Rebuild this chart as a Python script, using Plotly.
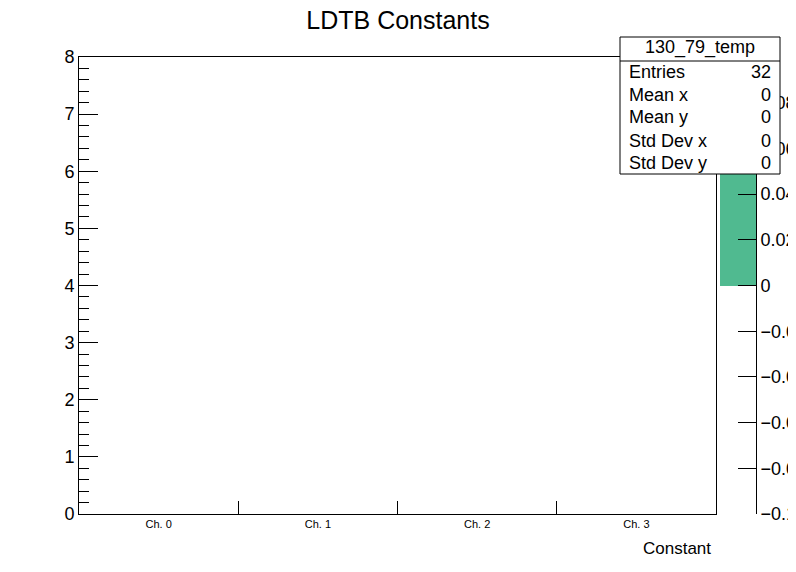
import plotly.graph_objects as go

# ---- data ----
channels = ["Ch. 0", "Ch. 1", "Ch. 2", "Ch. 3"]
y_bins = [0.5, 1.5, 2.5, 3.5, 4.5, 5.5, 6.5, 7.5]
constants = [[0, 0, 0, 0] for _ in y_bins]  # all bin contents are zero
palette_low = 0.0
palette_high = 0.1
palette_ticks = [-0.1, -0.08, -0.06, -0.04, -0.02, 0, 0.02, 0.04, 0.06, 0.08]
stat_labels = ["Entries", "Mean x", "Mean y", "Std Dev x", "Std Dev y"]
stat_values = ["32", "0", "0", "0", "0"]
hist_name = "130_79_temp"

# ROOT does not draw empty (zero) cells
z_drawn = [[(v if v != 0 else None) for v in row] for row in constants]

FONT = "Liberation Sans, Arial, sans-serif"
GREEN = "rgb(80,186,144)"

W, H = 796, 572
OFF = 8  # page body margin offset


def px(x):
    return (x - OFF) / W


def py(y):
    return 1 - (y - OFF) / H


fig = go.Figure()
fig.add_trace(go.Heatmap(x=channels, y=y_bins, z=z_drawn, showscale=False,
                         colorscale=[[0, GREEN], [1, GREEN]], xaxis="x", yaxis="y"))

# palette (colour bar) drawn as a bar on its own axes
fig.add_trace(go.Bar(x=[0], y=[palette_high - palette_low], base=[palette_low],
                     marker=dict(color=GREEN, line=dict(width=0)), width=1,
                     xaxis="x2", yaxis="y2", showlegend=False, hoverinfo="skip"))

fig.update_layout(
    width=W, height=H,
    margin=dict(l=0, r=0, t=0, b=0, autoexpand=False),
    paper_bgcolor="white", plot_bgcolor="rgba(0,0,0,0)",
    font=dict(family=FONT, color="black"),
    showlegend=False,
    title=dict(text="LDTB Constants", x=px(398), xanchor="center", y=py(20), yanchor="middle",
               font=dict(size=25, family=FONT, color="black"), automargin=False),
    xaxis=dict(domain=[px(79), px(716)], type="category", categoryarray=channels, range=[-0.5, 3.5],
               tickson="boundaries", ticks="inside", ticklen=13, tickcolor="black", tickwidth=1,
               showline=True, linecolor="black", linewidth=1, mirror=True, showgrid=False,
               zeroline=False, tickfont=dict(size=11, family=FONT), anchor="y",
               automargin=False, title=dict(text="")),
    yaxis=dict(domain=[py(514), py(57)], range=[0, 8], dtick=1, ticks="inside", ticklen=19,
               tickcolor="black", showline=True, linecolor="black", linewidth=1, mirror=True,
               showgrid=False, zeroline=False, tickfont=dict(size=18, family=FONT), anchor="x",
               automargin=False,
               minor=dict(dtick=0.2, ticks="inside", ticklen=10, tickcolor="black", showgrid=False)),
    xaxis2=dict(domain=[px(720), px(756)], range=[-0.5, 0.5], visible=False, anchor="y2",
                automargin=False),
    yaxis2=dict(domain=[py(514), py(57)], range=[-0.1, 0.1], tickmode="array",
                tickvals=palette_ticks, side="right", anchor="x2",
                ticks="inside", ticklen=18, tickcolor="black", showline=True, linecolor="black",
                linewidth=1, showgrid=False, zeroline=False, tickfont=dict(size=18, family=FONT),
                automargin=False),
    bargap=0,
)

# x-axis title
fig.add_annotation(text="Constant", xref="paper", yref="paper", x=px(713), y=py(548),
                   xanchor="right", yanchor="middle", showarrow=False,
                   font=dict(size=17, family=FONT))

# stats box
fig.add_shape(type="rect", xref="paper", yref="paper", x0=px(620), x1=px(780), y0=py(174), y1=py(37),
              line=dict(color="black", width=1), fillcolor="white", layer="above")
fig.add_shape(type="line", xref="paper", yref="paper", x0=px(620), x1=px(780),
              y0=py(61), y1=py(61), line=dict(color="black", width=1), layer="above")
fig.add_annotation(text=hist_name, xref="paper", yref="paper", x=px(700), y=py(48),
                   xanchor="center", yanchor="middle", showarrow=False,
                   font=dict(size=18, family=FONT))
row_y = [72, 95, 117, 141, 163]
for lab, val, ry in zip(stat_labels, stat_values, row_y):
    fig.add_annotation(text=lab, xref="paper", yref="paper", x=px(627), y=py(ry),
                       xanchor="left", yanchor="middle", showarrow=False,
                       font=dict(size=18, family=FONT))
    fig.add_annotation(text=val, xref="paper", yref="paper", x=px(773), y=py(ry),
                       xanchor="right", yanchor="middle", showarrow=False,
                       font=dict(size=18, family=FONT))

fig.write_html("out.html")
